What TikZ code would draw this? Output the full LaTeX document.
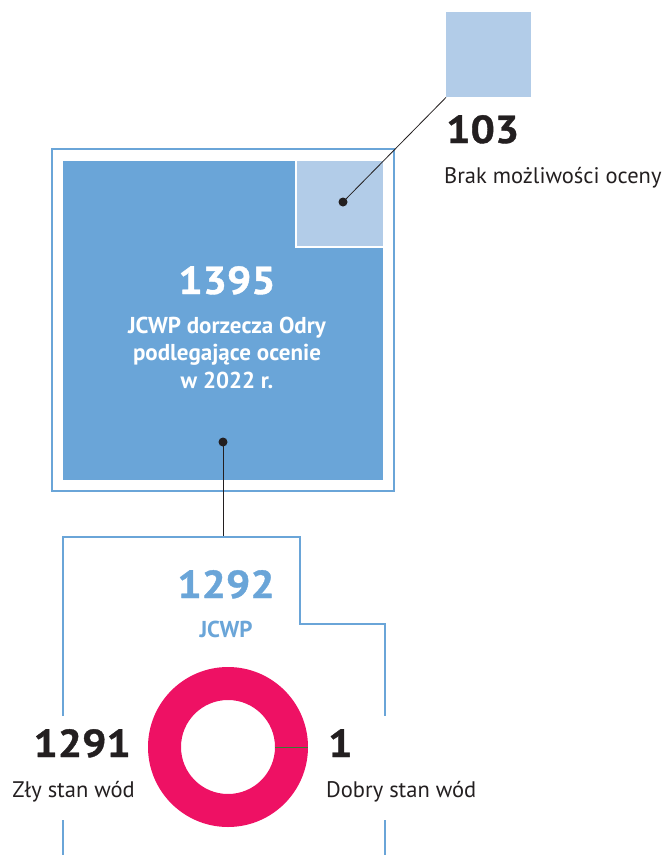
\documentclass[tikz,border=0pt]{standalone}
\usepackage{fontspec}
\setmainfont{PT Sans}
\newfontfamily\numfont[FakeStretch=1.1, FakeBold=1]{PT Sans Bold}
\usetikzlibrary{calc}

\definecolor{midblue}{HTML}{6AA5D8}
\definecolor{paleblue}{HTML}{B2CCE8}
\definecolor{ringred}{HTML}{EE1164}
\definecolor{ink}{HTML}{231F20}

\begin{document}
\begin{tikzpicture}[x=1pt, y=-1pt,
    bignum/.style={inner sep=0pt, font=\fontsize{39}{39}\selectfont\numfont},
    label/.style={inner sep=0pt, text=ink, font=\fontsize{22.5}{22.5}\selectfont},
    dot/.style={circle, fill=ink, inner sep=0pt, minimum size=9pt}]
  \useasboundingbox (0,0) rectangle (664,855);

  % Small square for the unassessed ones
  \node[fill=paleblue, inner sep=0pt, minimum size=85pt, anchor=north west] (small) at (446,12) {};
  \node[bignum, text=ink, anchor=base west] (n103) at (446,143) {103};
  \node[label, anchor=base west] (t103) at (444,183) {Brak możliwości oceny};

  % Big square with its frame
  \draw[midblue, line width=1.5pt] (52,149) rectangle (394,491);
  \fill[midblue] (63,161) rectangle (383,480);
  \fill[paleblue] (296,161) rectangle (383,247);
  \draw[white, line width=2pt] (296,161) -- (296,247) -- (383,247);
  \node[bignum, text=white, anchor=base] (n1395) at (227,294) {1395};
  \node[inner sep=0pt, text=white, align=center, anchor=base,
        font=\fontsize{23}{27.5}\selectfont\bfseries] (t1395) at (227,388)
        {JCWP dorzecza Odry\\podlegające ocenie\\w 2022 r.};

  % Dots and leader lines
  \node[dot] (dotsmall) at (343,202) {};
  \node[dot] (dotbig) at (223,442) {};
  \coordinate (boxtop) at (223,537);
  \draw[ink, line width=0.8pt] (small.south west) -- (dotsmall.center);
  \draw[ink, line width=0.8pt] (dotbig.center) -- (boxtop);

  % Lower outline
  \draw[midblue, line width=1.5pt] (63,716) -- (63,537) -- (300,537) -- (300,624)
    -- (385,624) -- (385,716);
  \draw[midblue, line width=1.5pt] (63,820) -- (63,855);
  \draw[midblue, line width=1.5pt] (385,820) -- (385,855);
  \node[bignum, text=midblue, anchor=base] (n1292) at (226,598) {1292};
  \node[inner sep=0pt, text=midblue, anchor=base, font=\fontsize{23}{23}\selectfont\bfseries]
    (t1292) at (226,637) {JCWP};

  % Ring chart
  \fill[ringred, even odd rule] (228,747) circle (80) (228,747) circle (47);
  \draw[gray!60!green!70!black, line width=0.6pt] (275,747) -- (308,747);

  \node[bignum, text=ink, anchor=base east] (n1291) at (131,757) {1291};
  \node[label, anchor=base east] (t1291) at (135,797) {Zły stan wód};
  \node[bignum, text=ink, anchor=base west] (n1) at (328,757) {1};
  \node[label, anchor=base west] (t1) at (326,797) {Dobry stan wód};
\end{tikzpicture}
\end{document}
